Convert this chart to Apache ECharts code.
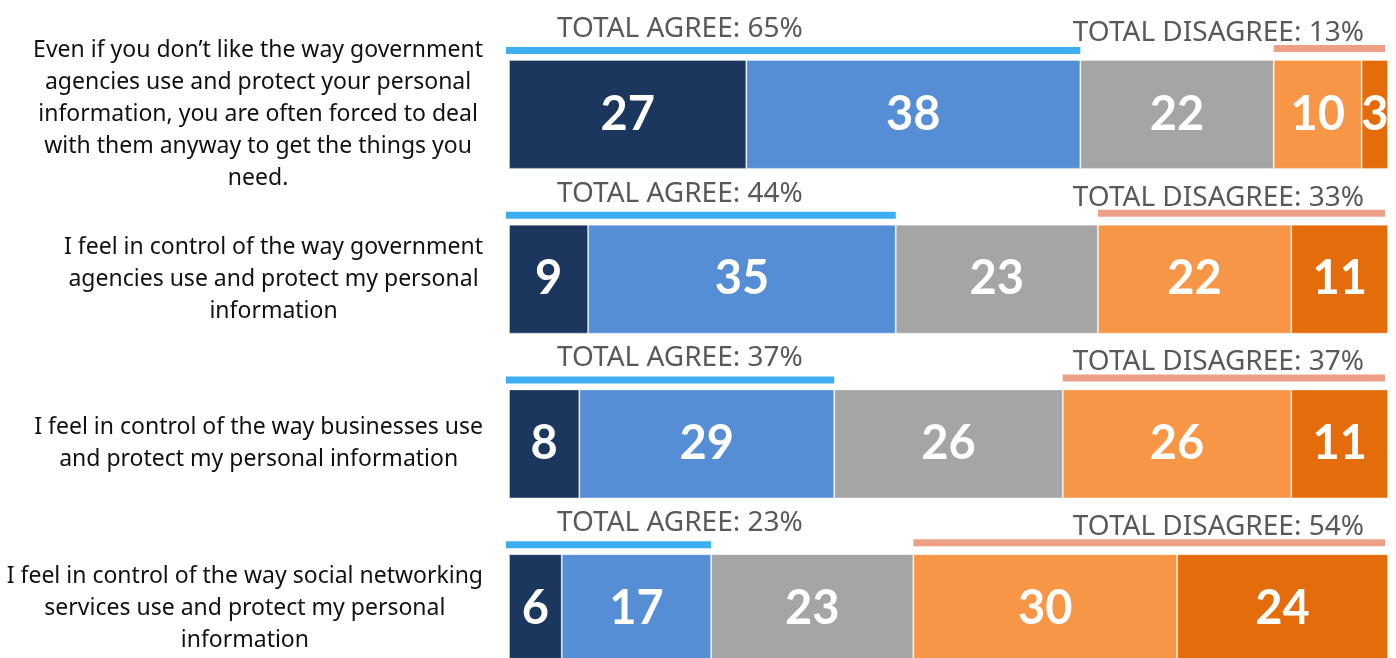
<!DOCTYPE html>
<html>
<head>
<meta charset="utf-8">
<title>Control over personal information</title>
<script src="https://cdn.jsdelivr.net/npm/echarts@6/dist/echarts.min.js"></script>
<style>
  html, body { margin: 0; padding: 0; background: #ffffff; }
  #chart { width: 1396px; height: 658px; }
</style>
</head>
<body>
<div id="chart"></div>
<script>
// Statements (line breaks as wrapped in the label column)
const categories = [
  "Even if you don\u2019t like the way government\nagencies use and protect your personal\ninformation, you are often forced to deal\nwith them anyway to get the things you\nneed.",
  "I feel in control of the way government\nagencies use and protect my personal\ninformation",
  "I feel in control of the way businesses use\nand protect my personal information",
  "I feel in control of the way social networking\nservices use and protect my personal\ninformation"
];

// Response shares (%), one value per statement
const stronglyAgree    = [27, 9, 8, 6];
const somewhatAgree    = [38, 35, 29, 17];
const neutral          = [22, 23, 26, 23];
const somewhatDisagree = [10, 22, 26, 30];
const stronglyDisagree = [3, 11, 11, 24];

// Net totals shown above each bar (%)
const totalAgree    = [65, 44, 37, 23];
const totalDisagree = [13, 33, 37, 54];

const BAR_H = 109;
const LABEL_FONT = '23px "Noto Sans"';
const TOTAL_FONT = '28px "Noto Sans"';

const measureCtx = document.createElement('canvas').getContext('2d');
function widestLine(text, font) {
  measureCtx.font = font;
  return Math.max.apply(null, text.split('\n').map(l => measureCtx.measureText(l).width));
}

function barSeries(name, data, color) {
  return {
    name: name,
    type: 'bar',
    stack: 'share',
    barWidth: BAR_H,
    data: data,
    itemStyle: { color: color, borderColor: 'rgba(255,255,255,0.35)', borderWidth: 1 },
    label: {
      show: true,
      position: 'inside',
      color: '#ffffff',
      fontFamily: 'Lato',
      fontWeight: 'bold',
      fontSize: 47
    },
    emphasis: { disabled: true },
    silent: true
  };
}

const chart = echarts.init(document.getElementById('chart'), null, { renderer: 'canvas' });

chart.setOption({
  animation: false,
  backgroundColor: '#ffffff',
  // last row runs past the bottom edge of the canvas
  grid: { left: 509, width: 879, top: 32, height: 659, outerBoundsMode: 'none', containLabel: false },
  xAxis: { type: 'value', min: 0, max: 100, show: false },
  yAxis: { type: 'category', data: categories, inverse: true, show: false },
  series: [
    barSeries('Strongly agree', stronglyAgree, '#1b375d'),
    barSeries('Somewhat agree', somewhatAgree, '#558ed5'),
    barSeries('Neither', neutral, '#a5a5a5'),
    barSeries('Somewhat disagree', somewhatDisagree, '#f79646'),
    barSeries('Strongly disagree', stronglyDisagree, '#e46c0a'),
    {
      // statement text, net totals and their bracket lines for each row
      type: 'custom',
      silent: true,
      clip: false,
      encode: { x: 0, y: 1 },
      data: categories.map((c, i) => [totalAgree[i], i, totalDisagree[i]]),
      renderItem: function (params, api) {
        const i = api.value(1);
        const agree = api.value(0);
        const disagree = api.value(2);
        const start = api.coord([0, i]);
        const end = api.coord([100, i]);
        const agreeEnd = api.coord([agree, i]);
        const disStart = api.coord([100 - disagree, i]);
        const cy = start[1];
        const top = cy - BAR_H / 2;
        const label = categories[i];
        const labelCx = start[0] - 26 - widestLine(label, LABEL_FONT) / 2;
        return {
          type: 'group',
          children: [
            {
              type: 'rect',
              shape: { x: start[0] - 3, y: top - 13, width: agreeEnd[0] - start[0] + 3, height: 7 },
              style: { fill: '#3daef2' }
            },
            {
              type: 'rect',
              shape: { x: disStart[0], y: top - 15, width: end[0] - 3 - disStart[0], height: 7 },
              style: { fill: '#eea087' }
            },
            {
              type: 'text',
              style: {
                text: 'TOTAL AGREE: ' + agree + '%',
                x: start[0] + 48, y: top - 31,
                font: TOTAL_FONT, fill: '#595959',
                align: 'left', verticalAlign: 'middle'
              }
            },
            {
              type: 'text',
              style: {
                text: 'TOTAL DISAGREE: ' + disagree + '%',
                x: end[0] - 24, y: top - 27,
                font: TOTAL_FONT, fill: '#595959',
                align: 'right', verticalAlign: 'middle'
              }
            },
            {
              type: 'text',
              style: {
                text: label,
                x: labelCx, y: cy,
                font: LABEL_FONT, lineHeight: 32, fill: '#111111',
                align: 'center', verticalAlign: 'middle'
              }
            }
          ]
        };
      }
    }
  ]
});
</script>
</body>
</html>
